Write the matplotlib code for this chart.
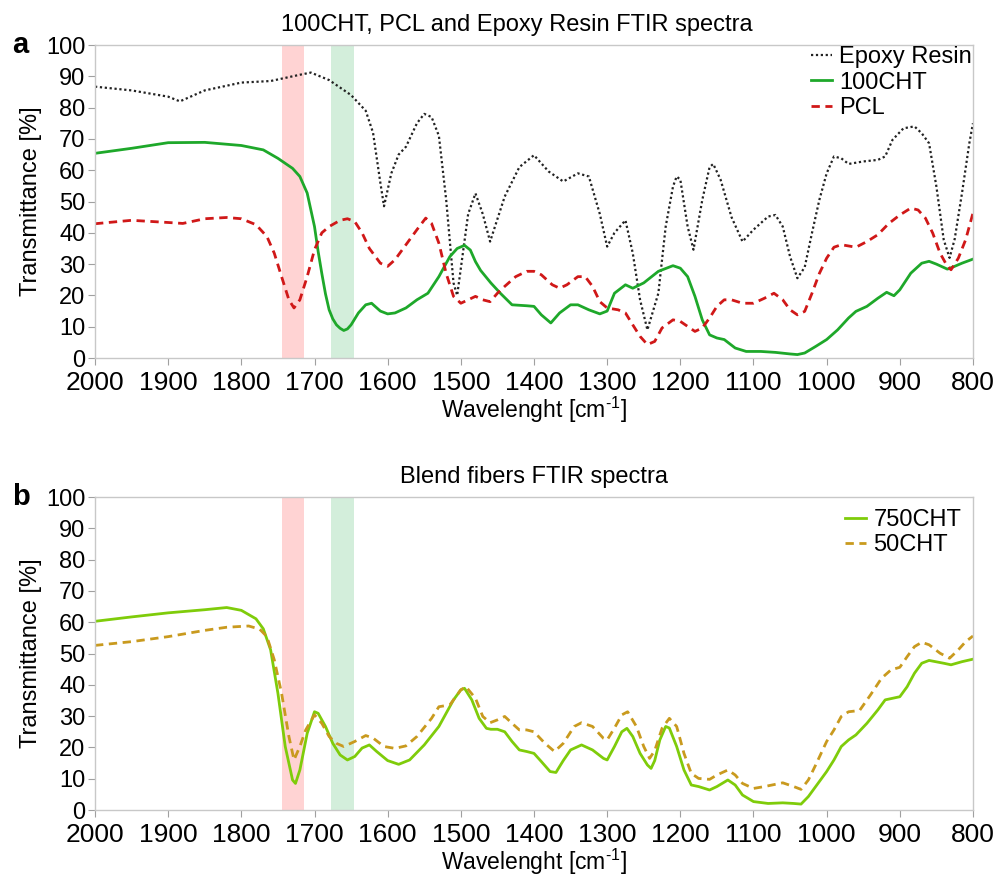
import numpy as np
import matplotlib.pyplot as plt

plt.rcParams['font.family'] = ['Liberation Sans', 'DejaVu Sans']
plt.rcParams['mathtext.fontset'] = 'custom'
plt.rcParams['mathtext.rm'] = 'Liberation Sans'
plt.rcParams['mathtext.it'] = 'Liberation Sans'

# ---- panel a: Epoxy Resin, 100CHT, PCL
epoxy_wn = [2000, 1950, 1900, 1884, 1850, 1800, 1760, 1740, 1720, 1705, 1680, 1650, 1630, 1620,
            1610, 1605, 1595, 1585, 1575, 1560, 1550, 1540, 1530, 1520, 1510, 1505, 1490, 1480,
            1470, 1460, 1440, 1420, 1400, 1380, 1360, 1340, 1325, 1310, 1300, 1290, 1275, 1265,
            1255, 1245, 1230, 1220, 1210, 1205, 1200, 1190, 1182, 1170, 1160, 1155, 1145, 1130,
            1115, 1100, 1080, 1070, 1060, 1050, 1040, 1030, 1020, 1010, 1000, 990, 980, 970,
            950, 930, 920, 910, 895, 880, 870, 860, 850, 840, 832, 825, 815, 805, 800]
epoxy_t = [86.7, 85.5, 83.5, 82.0, 85.5, 88.0, 88.5, 89.5, 90.5, 91.2, 88.8, 84.0, 79.0, 72.0,
           56.0, 48.5, 59.0, 65.0, 67.5, 75.0, 78.0, 77.0, 71.0, 50.5, 24.0, 20.0, 46.0, 52.6,
           46.0, 37.2, 51.6, 61.0, 64.8, 59.6, 56.4, 59.0, 58.0, 46.0, 35.6, 40.0, 44.0, 33.5,
           18.6, 9.0, 20.7, 42.0, 54.8, 58.0, 57.0, 42.0, 34.6, 50.5, 61.0, 62.0, 57.0, 45.0,
           37.2, 41.0, 45.2, 45.7, 42.0, 32.4, 25.5, 29.0, 40.0, 50.5, 59.0, 64.4, 63.8, 62.0,
           62.8, 63.3, 64.4, 69.7, 73.4, 74.0, 71.8, 68.6, 54.8, 37.8, 32.0, 38.0, 52.7, 68.6, 75.0]

cht100_wn = [2000, 1950, 1900, 1850, 1800, 1770, 1750, 1730, 1720, 1710, 1700, 1695, 1690, 1685,
             1680, 1675, 1670, 1665, 1660, 1655, 1650, 1640, 1630, 1622, 1610, 1600, 1590, 1575,
             1560, 1545, 1530, 1515, 1505, 1495, 1487, 1480, 1473, 1459, 1446, 1430, 1410, 1400,
             1390, 1377, 1365, 1350, 1340, 1325, 1310, 1300, 1290, 1275, 1265, 1250, 1230, 1210,
             1200, 1190, 1180, 1170, 1160, 1150, 1140, 1125, 1110, 1090, 1070, 1050, 1040, 1030,
             1015, 1000, 985, 970, 960, 945, 930, 918, 908, 900, 885, 870, 860, 850, 835, 825,
             815, 800]
cht100_t = [65.4, 67.0, 68.8, 68.9, 67.9, 66.5, 63.8, 60.6, 58.0, 52.7, 42.0, 34.0, 27.0, 20.5,
            15.4, 12.5, 10.6, 9.5, 8.8, 9.3, 10.6, 14.4, 17.0, 17.5, 15.0, 14.1, 14.4, 16.0,
            18.6, 20.7, 26.0, 32.4, 35.0, 36.0, 34.5, 30.8, 28.0, 24.0, 20.7, 17.0, 16.7, 16.5,
            13.8, 11.2, 14.4, 17.0, 17.0, 15.4, 14.1, 15.0, 20.7, 23.4, 22.3, 24.0, 27.7, 29.5,
            28.7, 26.0, 19.7, 12.2, 7.4, 6.4, 5.9, 3.2, 2.1, 2.1, 1.8, 1.3, 1.1, 1.6,
            3.7, 5.9, 9.0, 12.8, 14.9, 16.5, 19.1, 21.0, 19.9, 21.8, 27.1, 30.3, 30.9, 30.0, 28.4,
            29.3, 30.3, 31.6]

pcl_wn = [2000, 1950, 1900, 1880, 1850, 1820, 1800, 1780, 1765, 1755, 1745, 1735, 1728, 1720,
          1710, 1700, 1690, 1680, 1665, 1655, 1645, 1635, 1625, 1610, 1600, 1590, 1575, 1560,
          1548, 1540, 1530, 1520, 1510, 1500, 1490, 1480, 1470, 1460, 1450, 1440, 1425, 1410,
          1400, 1390, 1375, 1365, 1355, 1340, 1330, 1320, 1310, 1300, 1285, 1275, 1265, 1255,
          1245, 1235, 1225, 1210, 1200, 1190, 1180, 1170, 1160, 1150, 1140, 1130, 1115, 1100,
          1085, 1072, 1060, 1050, 1040, 1030, 1020, 1010, 1000, 990, 980, 960, 945, 930,
          915, 900, 885, 875, 865, 855, 845, 835, 830, 820, 810, 800]
pcl_t = [42.9, 44.0, 43.3, 43.0, 44.5, 44.9, 44.5, 42.6, 38.8, 33.5, 26.0, 18.6, 16.0, 18.6,
         26.0, 34.6, 40.0, 42.0, 44.0, 44.5, 43.6, 40.0, 35.0, 30.3, 29.3, 31.4, 36.2, 41.0,
         44.7, 43.0, 36.7, 27.0, 19.7, 17.5, 18.6, 19.7, 18.6, 18.0, 20.7, 22.9, 26.0, 27.7,
         27.7, 26.6, 23.4, 22.3, 23.4, 26.0, 26.0, 22.9, 18.0, 16.0, 15.4, 14.4, 10.6, 6.9,
         4.3, 5.3, 9.6, 12.2, 11.7, 10.1, 8.5, 9.6, 12.8, 16.5, 18.6, 18.6, 17.5, 17.5,
         19.1, 20.7, 18.6, 15.4, 13.8, 14.9, 20.7, 27.0, 31.9, 35.4, 36.2, 35.4, 37.2, 39.4,
         43.0, 45.7, 47.9, 47.3, 44.7, 39.9, 33.5, 29.3, 28.2, 31.9, 37.8, 46.3]

# ---- panel b: blend fibers
cht750_wn = [2000, 1950, 1900, 1850, 1820, 1800, 1780, 1770, 1760, 1750, 1740, 1730, 1726, 1720,
             1710, 1700, 1695, 1685, 1675, 1665, 1655, 1645, 1635, 1625, 1615, 1600, 1585, 1570,
             1550, 1530, 1510, 1500, 1495, 1485, 1475, 1465, 1459, 1450, 1440, 1430, 1420, 1410,
             1400, 1390, 1378, 1370, 1360, 1350, 1335, 1320, 1305, 1300, 1290, 1280, 1273, 1265,
             1255, 1245, 1240, 1235, 1228, 1220, 1215, 1205, 1195, 1185, 1175, 1160, 1150, 1135,
             1125, 1115, 1100, 1080, 1060, 1045, 1035, 1025, 1015, 1000, 990, 980, 970, 960,
             945, 930, 920, 910, 900, 890, 880, 870, 860, 840, 830, 815, 800]
cht750_t = [60.3, 61.7, 63.0, 64.0, 64.7, 63.8, 61.1, 57.9, 51.2, 37.3, 20.3, 9.6, 8.5, 12.8,
            24.5, 31.4, 30.9, 26.7, 21.3, 17.6, 16.0, 17.1, 19.8, 20.8, 18.7, 15.8, 14.6, 16.0,
            20.8, 26.7, 35.2, 38.4, 38.9, 35.2, 29.3, 26.1, 25.8, 25.8, 25.0, 21.9, 19.2, 18.7,
            18.1, 15.5, 12.3, 12.0, 15.8, 19.2, 20.8, 19.2, 16.5, 16.0, 20.3, 25.0, 26.1, 23.5,
            18.1, 14.4, 13.3, 15.8, 22.4, 26.7, 26.2, 20.3, 12.8, 8.0, 7.5, 6.4, 7.5, 9.6,
            8.0, 4.8, 2.7, 2.1, 2.3, 2.1, 1.9, 4.3, 7.5, 12.3, 16.0, 20.3, 22.4, 24.0,
            27.7, 32.0, 35.2, 35.7, 36.2, 39.4, 43.7, 46.9, 47.8, 46.9, 46.4, 47.4, 48.2]

cht50_wn = [2000, 1950, 1900, 1850, 1820, 1790, 1775, 1765, 1755, 1745, 1735, 1728, 1720, 1712,
            1700, 1690, 1680, 1670, 1660, 1645, 1630, 1620, 1605, 1590, 1575, 1560, 1540, 1530,
            1515, 1500, 1493, 1480, 1470, 1460, 1450, 1440, 1430, 1420, 1410, 1400, 1385, 1372,
            1360, 1345, 1335, 1320, 1305, 1300, 1290, 1280, 1272, 1260, 1250, 1242, 1235, 1225,
            1215, 1205, 1195, 1185, 1175, 1160, 1150, 1135, 1125, 1115, 1100, 1085, 1060, 1045,
            1035, 1025, 1015, 1000, 990, 980, 970, 955, 940, 925, 912, 900, 890, 880,
            870, 860, 845, 832, 820, 810, 800]
cht50_t = [52.6, 53.8, 55.4, 57.4, 58.4, 58.8, 57.8, 55.4, 48.0, 37.3, 23.5, 16.0, 20.3, 25.6,
           30.4, 27.7, 23.5, 21.3, 20.3, 21.9, 23.8, 23.0, 20.3, 19.7, 20.5, 23.5, 29.3, 33.0,
           33.6, 38.4, 39.4, 35.7, 29.9, 27.9, 28.8, 29.9, 27.7, 25.6, 25.6, 25.0, 21.3, 18.7,
           21.3, 26.7, 27.9, 26.7, 22.9, 22.4, 26.2, 30.4, 31.4, 26.7, 20.3, 16.5, 19.0, 26.1,
           29.3, 26.7, 18.1, 11.7, 10.1, 9.8, 11.2, 12.8, 11.2, 8.5, 6.9, 7.5, 8.7, 7.5,
           6.6, 9.6, 14.4, 21.9, 25.6, 29.9, 31.4, 31.8, 36.8, 42.1, 44.8, 45.6, 49.0, 52.2,
           53.6, 52.8, 50.1, 48.5, 51.2, 53.8, 55.6]

# highlighted bands (cm-1)
band_red = (1745, 1715)
band_green = (1678, 1646)

spine_col = '#c8c8c8'


def style_axis(ax, title, letter, title_x):
    ax.axvspan(*band_red, color='#ffd3d3', lw=0, zorder=0)
    ax.axvspan(*band_green, color='#d3eedb', lw=0, zorder=0)
    ax.set_xlim(2000, 800)
    ax.set_ylim(0, 100)
    ax.set_xticks(np.arange(2000, 799, -100))
    ax.set_yticks(np.arange(0, 101, 10))
    for s in ax.spines.values():
        s.set_color(spine_col)
        s.set_linewidth(1.0)
    ax.tick_params(axis='x', labelsize=19, color='#a0a0a0', length=5, pad=4)
    ax.tick_params(axis='y', labelsize=17, color='#a0a0a0', length=5, pad=2)
    ax.set_xlabel('Wavelenght [cm$^{\\text{-}1}$]', fontsize=16.5, labelpad=0.5)
    ax.set_ylabel('Transmittance [%]', fontsize=17, labelpad=3)
    ax.set_title(title, fontsize=17, pad=10, x=title_x)
    ax.text(-0.094, 1.0, letter, transform=ax.transAxes, fontsize=21, fontweight='bold',
            va='center', ha='left')


fig = plt.figure(figsize=(9.97, 8.76), dpi=100)
ax1 = fig.add_axes([0.0953, 0.5913, 0.8806, 0.3573])
ax2 = fig.add_axes([0.0953, 0.0753, 0.8806, 0.3573])

ax1.plot(epoxy_wn, epoxy_t, color='#222222', ls=(0, (1, 1.2)), lw=1.6, label='Epoxy Resin')
ax1.plot(cht100_wn, cht100_t, color='#1ea82a', lw=2.0, label='100CHT')
ax1.plot(pcl_wn, pcl_t, color='#d01818', ls=(0, (3, 2)), lw=2.0, label='PCL')
style_axis(ax1, '100CHT, PCL and Epoxy Resin FTIR spectra', 'a', 0.48)
ax1.legend(loc='upper right', frameon=False, fontsize=17, handlelength=0.9, handletextpad=0.3,
           borderaxespad=0.0, labelspacing=0.15, borderpad=0.05)

ax2.plot(cht750_wn, cht750_t, color='#7fcc0a', lw=2.0, label='750CHT')
ax2.plot(cht50_wn, cht50_t, color='#c99a1e', ls=(0, (3, 2)), lw=2.0, label='50CHT')
style_axis(ax2, 'Blend fibers FTIR spectra', 'b', 0.5)
ax2.legend(loc='upper right', frameon=False, fontsize=17, handlelength=0.9, handletextpad=0.3,
           borderaxespad=0.3, labelspacing=0.15, borderpad=0.2)

plt.savefig('out.png', dpi=100)
